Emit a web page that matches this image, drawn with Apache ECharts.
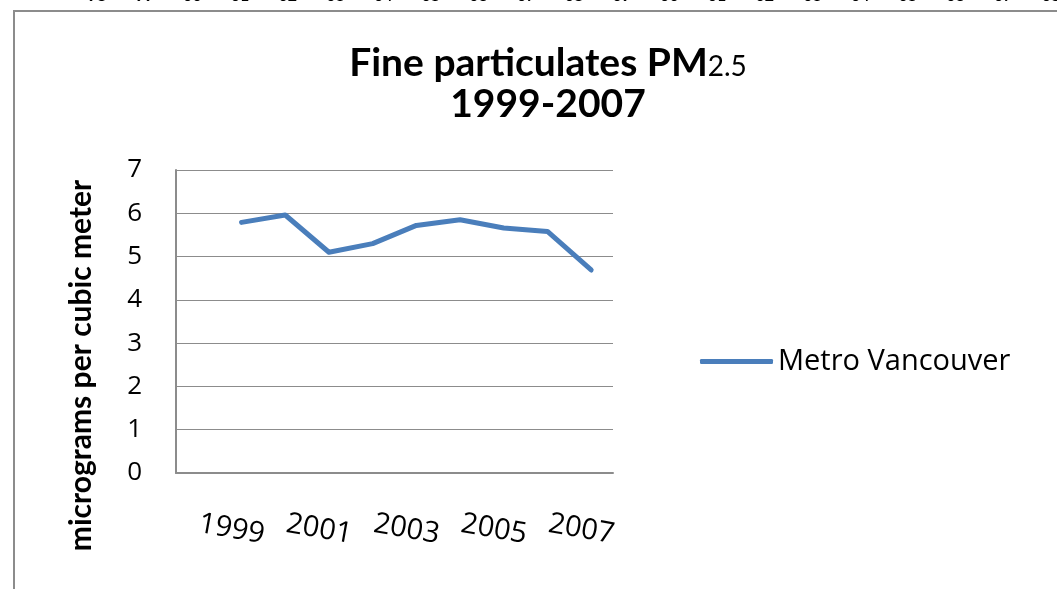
<!DOCTYPE html>
<html>
<head>
<meta charset="utf-8">
<script src="https://cdn.jsdelivr.net/npm/echarts@6/dist/echarts.min.js"></script>
<style>
html,body{margin:0;padding:0;background:#fff;}
#chart{width:1057px;height:589px;}
</style>
</head>
<body>
<div id="chart"></div>
<script>
// ---- data ----
const categories = ['', '1999', '2000', '2001', '2002', '2003', '2004', '2005', '2006', '2007'];
const seriesName = 'Metro Vancouver';
const pm25Values = [null, 5.79, 5.96, 5.10, 5.30, 5.72, 5.85, 5.66, 5.58, 4.69];
const yTicks = [0, 1, 2, 3, 4, 5, 6, 7];
const titleLine1 = 'Fine particulates PM';
const titleSub = '2.5';
const titleLine2 = '1999-2007';
const yAxisTitle = 'micrograms per cubic meter';
// fragments of labels from a neighbouring chart, cut off at the top edge
const topFragments = ['98','99','00','01','02','03','04','05','06','07','08','09','00','01','02','03','04','05','06','07','08'];

const FONT = 'Lato, "Open Sans", sans-serif';
const FONT2 = '"Open Sans", Lato, sans-serif';
const chart = echarts.init(document.getElementById('chart'), null, {renderer: 'canvas'});

const graphics = [
  {type: 'polyline', silent: true, shape: {points: [[14, 589], [14, 11], [1057, 11]]},
   style: {stroke: '#8c8c8c', lineWidth: 2, fill: null}}
];
topFragments.forEach((t, i) => {
  graphics.push({type: 'text', silent: true, x: 97 + i * 47.7, y: -4,
    style: {text: t, font: 'bold 16px ' + FONT, fill: '#000', align: 'center', verticalAlign: 'middle'}});
});

chart.setOption({
  backgroundColor: '#ffffff',
  animation: false,
  title: {
    text: '{b|' + titleLine1 + '}{s|' + titleSub + '}\n{b|' + titleLine2 + '}',
    left: 543, top: 37, textAlign: 'center',
    textStyle: {
      rich: {
        b: {fontFamily: FONT, fontWeight: 'bold', fontSize: 39, color: '#000', lineHeight: 41, verticalAlign: 'bottom'},
        s: {fontFamily: FONT, fontWeight: 'normal', fontSize: 28, color: '#000', lineHeight: 41, verticalAlign: 'bottom', padding: [0, 0, 2, 0]}
      }
    }
  },
  legend: {
    data: [seriesName], left: 695, top: 342, icon: 'roundRect', itemWidth: 73, itemHeight: 5,
    textStyle: {fontFamily: FONT2, fontSize: 29, color: '#000'}
  },
  grid: {left: 176, right: 444, top: 170, bottom: 116, containLabel: false},
  xAxis: {
    type: 'category', data: categories, boundaryGap: true,
    axisLine: {show: true, lineStyle: {color: '#8c8c8c', width: 2}},
    axisTick: {show: false},
    axisLabel: {
      interval: (i) => i % 2 === 1,
      rotate: -10, align: 'center', verticalAlign: 'middle', margin: 58,
      padding: [0, 20, 0, 0],
      fontFamily: FONT2, fontSize: 29, color: '#000'
    },
    splitLine: {show: false}
  },
  yAxis: {
    type: 'value', min: yTicks[0], max: yTicks[yTicks.length - 1], interval: 1,
    name: yAxisTitle, nameLocation: 'middle', nameGap: 80, nameRotate: 90,
    nameTextStyle: {fontFamily: FONT, fontWeight: 'bold', fontSize: 30, color: '#000', padding: [0, 88, 0, 0]},
    axisLine: {show: true, lineStyle: {color: '#8c8c8c', width: 2}},
    axisTick: {show: false},
    axisLabel: {margin: 34, fontFamily: FONT2, fontSize: 26, color: '#000'},
    splitLine: {show: true, lineStyle: {color: '#8c8c8c', width: 1}}
  },
  series: [{
    name: seriesName, type: 'line', data: pm25Values, symbol: 'none', connectNulls: false,
    itemStyle: {color: '#4a7ebb'},
    lineStyle: {color: '#4a7ebb', width: 5, cap: 'round', join: 'round'}
  }],
  graphic: graphics
});
</script>
</body>
</html>
